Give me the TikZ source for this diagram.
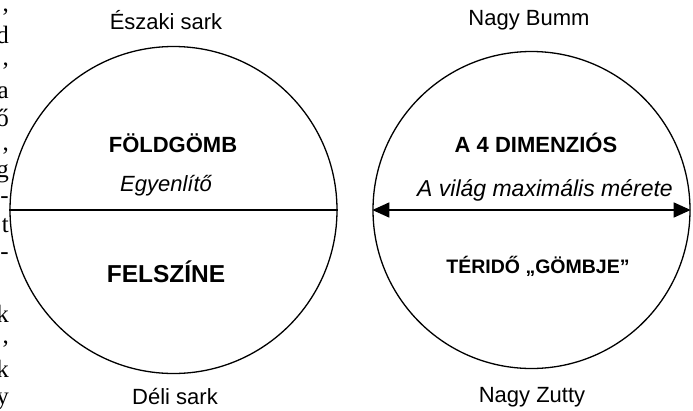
\documentclass[tikz,border=0pt]{standalone}
\usepackage{fontspec}
\setmainfont{Liberation Sans}
\newfontfamily\lapszel{Liberation Serif}
\usetikzlibrary{arrows.meta}
\tikzset{
  gomb/.style={circle,draw,line width=1.3pt,inner sep=0pt,minimum size=#1},
  sark/.style={font=\fontsize{22}{26}\selectfont},
  cim/.style={font=\fontsize{22}{26}\selectfont\bfseries},
  dolt/.style={font=\fontsize{22}{26}\selectfont\itshape},
  szel/.style={font=\fontsize{25}{29}\selectfont\lapszel,anchor=base east,inner sep=0pt},
  hegy/.tip={Triangle[length=17pt,width=15pt]}
}
\begin{document}
\begin{tikzpicture}[x=1pt,y=-1pt]
\useasboundingbox (0,0) rectangle (693,410);
\foreach \y/\t [count=\n] in {11/{,},43/d,65/{,},98/a,126/ő,150/{,},177/g,203/-,232/t,259/-,322/k,343/{,},377/k,404/y}
  \node[szel] (szel\n) at (9,\y) {\t};

\node[gomb=327] (fold) at (173.5,210) {};
\node[gomb=317] (ter) at (531.5,210) {};
\draw[line width=1.6pt] (fold.west) -- (fold.east);
\draw[line width=1.6pt,hegy-hegy] (ter.west) -- (ter.east);

\node[sark] (eszak) at (166,20) {Északi sark};
\node[sark] (del) at (175,397) {Déli sark};
\node[sark] (bumm) at (529,20) {Nagy Bumm};
\node[sark] (zutty) at (532,397) {Nagy Zutty};
\node[cim] (foldgomb) at (173,143) {FÖLDGÖMB};
\node[cim,font=\fontsize{24.5}{28}\selectfont\bfseries] (felszin) at (166,272) {FELSZÍNE};
\node[dolt] (egyenlito) at (166,186) {Egyenlítő};
\node[cim] (dimenzio) at (536,143) {A 4 DIMENZIÓS};
\node[dolt,font=\fontsize{23}{27}\selectfont\itshape] (vilag) at (545,190) {A világ maximális mérete};
\node[cim,font=\fontsize{19.5}{23}\selectfont\bfseries] (terido) at (538,266) {TÉRIDŐ „GÖMBJE”};
\end{tikzpicture}
\end{document}
